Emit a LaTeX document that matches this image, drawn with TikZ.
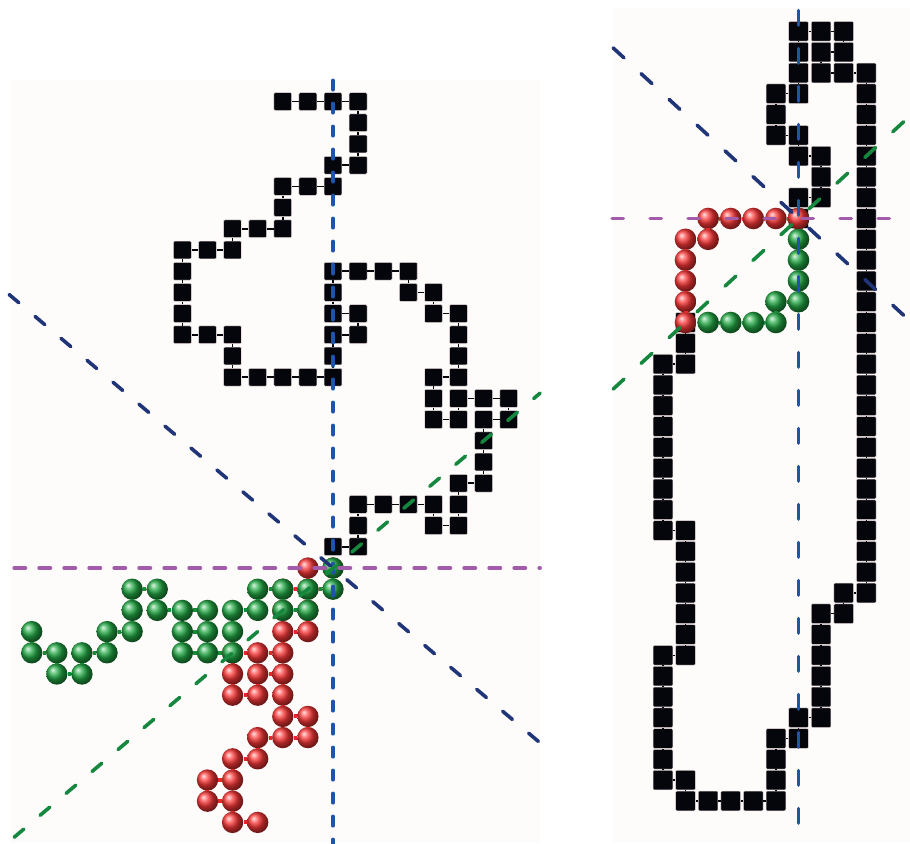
\documentclass[tikz,border=0pt]{standalone}
\definecolor{panelbg}{RGB}{254,252,251}
\definecolor{sqblack}{RGB}{5,5,12}
\definecolor{sqedge}{RGB}{236,222,222}
\definecolor{ballgreen}{RGB}{34,168,68}
\definecolor{ballred}{RGB}{250,55,55}
\definecolor{greenbond}{RGB}{22,140,55}
\definecolor{redbond}{RGB}{232,40,40}
\definecolor{axisblue}{RGB}{33,84,166}
\definecolor{axisnavy}{RGB}{32,52,120}
\definecolor{axispurple}{RGB}{163,92,170}
\definecolor{axisgreen}{RGB}{22,135,62}

\def\leftblack{(0,1),(1,1),(1,2),(1,3),(2,3),(3,3),(4,3),(4,2),(5,2),(5,3),(5,4),(6,4),(6,5),(6,6),(6,7),(7,7),(7,8),(6,8),(5,8),(5,7),(4,7),(4,8),(4,9),(5,9),(5,10),(5,11),(5,12),(4,12),(4,13),(3,13),(3,14),(2,14),(1,14),(0,14),(0,13),(0,12),(1,12),(1,11),(0,11),(0,10),(0,9),(-1,9),(-2,9),(-3,9),(-4,9),(-4,10),(-4,11),(-5,11),(-6,11),(-6,12),(-6,13),(-6,14),(-6,15),(-5,15),(-4,15),(-4,16),(-3,16),(-2,16),(-2,17),(-2,18),(-1,18),(0,18),(0,19),(1,19),(1,20),(1,21),(1,22),(0,22),(-1,22),(-2,22)}
\def\leftred{(0,0),(-1,0),(-1,-1),(-2,-1),(-2,-2),(-1,-2),(-1,-3),(-2,-3),(-2,-4),(-3,-4),(-4,-4),(-4,-5),(-4,-6),(-3,-6),(-3,-5),(-2,-5),(-2,-6),(-2,-7),(-1,-7),(-1,-8),(-2,-8),(-3,-8),(-3,-9),(-4,-9),(-4,-10),(-5,-10),(-5,-11),(-4,-11),(-4,-12),(-3,-12)}
\def\leftgreen{(0,0),(0,-1),(-1,-1),(-1,-2),(-2,-2),(-2,-1),(-3,-1),(-3,-2),(-4,-2),(-4,-3),(-4,-4),(-5,-4),(-6,-4),(-6,-3),(-5,-3),(-5,-2),(-6,-2),(-7,-2),(-7,-1),(-8,-1),(-8,-2),(-8,-3),(-9,-3),(-9,-4),(-10,-4),(-10,-5),(-11,-5),(-11,-4),(-12,-4),(-12,-3)}
\def\rightblack{(0,0),(0,1),(1,1),(1,2),(1,3),(0,3),(0,4),(-1,4),(-1,5),(-1,6),(0,6),(0,7),(0,8),(0,9),(1,9),(2,9),(2,8),(1,8),(1,7),(2,7),(3,7),(3,6),(3,5),(3,4),(3,3),(3,2),(3,1),(3,0),(3,-1),(3,-2),(3,-3),(3,-4),(3,-5),(3,-6),(3,-7),(3,-8),(3,-9),(3,-10),(3,-11),(3,-12),(3,-13),(3,-14),(3,-15),(3,-16),(3,-17),(3,-18),(2,-18),(2,-19),(1,-19),(1,-20),(1,-21),(1,-22),(1,-23),(1,-24),(0,-24),(0,-25),(-1,-25),(-1,-26),(-1,-27),(-1,-28),(-2,-28),(-3,-28),(-4,-28),(-5,-28),(-5,-27),(-6,-27),(-6,-26),(-6,-25),(-6,-24),(-6,-23),(-6,-22),(-6,-21),(-5,-21),(-5,-20),(-5,-19),(-5,-18),(-5,-17),(-5,-16),(-5,-15),(-6,-15),(-6,-14),(-6,-13),(-6,-12),(-6,-11),(-6,-10),(-6,-9),(-6,-8),(-6,-7),(-5,-7),(-5,-6),(-5,-5)}
\def\rightred{(0,0),(-1,0),(-2,0),(-3,0),(-4,0),(-4,-1),(-5,-1),(-5,-2),(-5,-3),(-5,-4),(-5,-5)}
\def\rightgreen{(0,0),(0,-1),(0,-2),(0,-3),(0,-4),(-1,-4),(-1,-5),(-2,-5),(-3,-5),(-4,-5)}

\tikzset{
  sq/.style={draw=sqedge,line width=0.4pt,fill=sqblack,rounded corners=0.8pt,minimum size=#1,inner sep=0pt},
  sqbond/.style={sqblack,line width=1.1pt},
  gball/.style={circle,inner sep=0pt,minimum size=#1,shading=ball,ball color=ballgreen},
  rball/.style={circle,inner sep=0pt,minimum size=#1,shading=ball,ball color=ballred},
  gbond/.style={greenbond,line width=3pt},
  rbond/.style={redbond,line width=3pt},
  axis/.style={line width=2.7pt,line cap=round}
}

\begin{document}
\begin{tikzpicture}[x=0.75pt,y=-0.75pt]
  \useasboundingbox (0,0) rectangle (910,843);
  \fill[panelbg] (10,80) rectangle (540,843);
  \fill[panelbg] (613,8) rectangle (910,843);

  \begin{scope}[shift={(333,568)},x=18.83pt,y=15.9pt]
    \foreach \p [count=\k] in \leftblack {
      \pgfmathtruncatemacro\j{\k-1}
      \node[sq=13.4pt] (lb\k) at \p {};
      \ifnum\k>1 \draw[sqbond] (lb\j) -- (lb\k); \fi
    }
    \foreach \p [count=\k] in \leftred {
      \pgfmathtruncatemacro\j{\k-1}
      \node[rball=16pt] (lr\k) at \p {};
      \ifnum\k>1 \draw[rbond] (lr\j) -- (lr\k); \fi
    }
    \foreach \p [count=\k] in \leftgreen {
      \pgfmathtruncatemacro\j{\k-1}
      \node[gball=16pt] (lg\k) at \p {};
      \ifnum\k>1 \draw[gbond] (lg\j) -- (lg\k); \fi
    }
    \draw[axis,axisblue,dash pattern=on 7pt off 10.25pt] (0,23) -- (0,-13);
    \draw[axis,axispurple,dash pattern=on 8.5pt off 10.25pt] (-12.7,0) -- (8.25,0);
    \draw[axis,axisnavy,dash pattern=on 9.5pt off 16pt] (-12.9,12.9) -- (8.25,-8.25);
    \draw[axis,axisgreen,dash pattern=on 9.5pt off 16pt] (-12.7,-12.7) -- (8.25,8.25);
  \end{scope}

  \begin{scope}[shift={(798.5,218.5)},x=16.95pt,y=15.6pt]
    \foreach \p [count=\k] in \rightblack {
      \pgfmathtruncatemacro\j{\k-1}
      \node[sq=14.8pt] (rb\k) at \p {};
      \ifnum\k>1 \draw[sqbond] (rb\j) -- (rb\k); \fi
    }
    \foreach \p [count=\k] in \rightgreen {
      \pgfmathtruncatemacro\j{\k-1}
      \node[gball=16.2pt] (rg\k) at \p {};
      \ifnum\k>1 \draw[gbond] (rg\j) -- (rg\k); \fi
    }
    \foreach \p [count=\k] in \rightred {
      \pgfmathtruncatemacro\j{\k-1}
      \node[rball=16.2pt] (rr\k) at \p {};
      \ifnum\k>1 \draw[rbond] (rr\j) -- (rr\k); \fi
    }
    \draw[axis,axisblue,dash pattern=on 11pt off 17.5pt] (0,10) -- (0,-30.1);
    \draw[axis,axispurple,dash pattern=on 8.5pt off 20pt] (-8.25,0) -- (4.9,0);
    \draw[axis,axisnavy,dash pattern=on 11pt off 17.5pt] (-8.2,8.2) -- (4.9,-4.9);
    \draw[axis,axisgreen,dash pattern=on 11pt off 17.5pt] (-8.2,-8.2) -- (4.9,4.9);
  \end{scope}
\end{tikzpicture}
\end{document}
